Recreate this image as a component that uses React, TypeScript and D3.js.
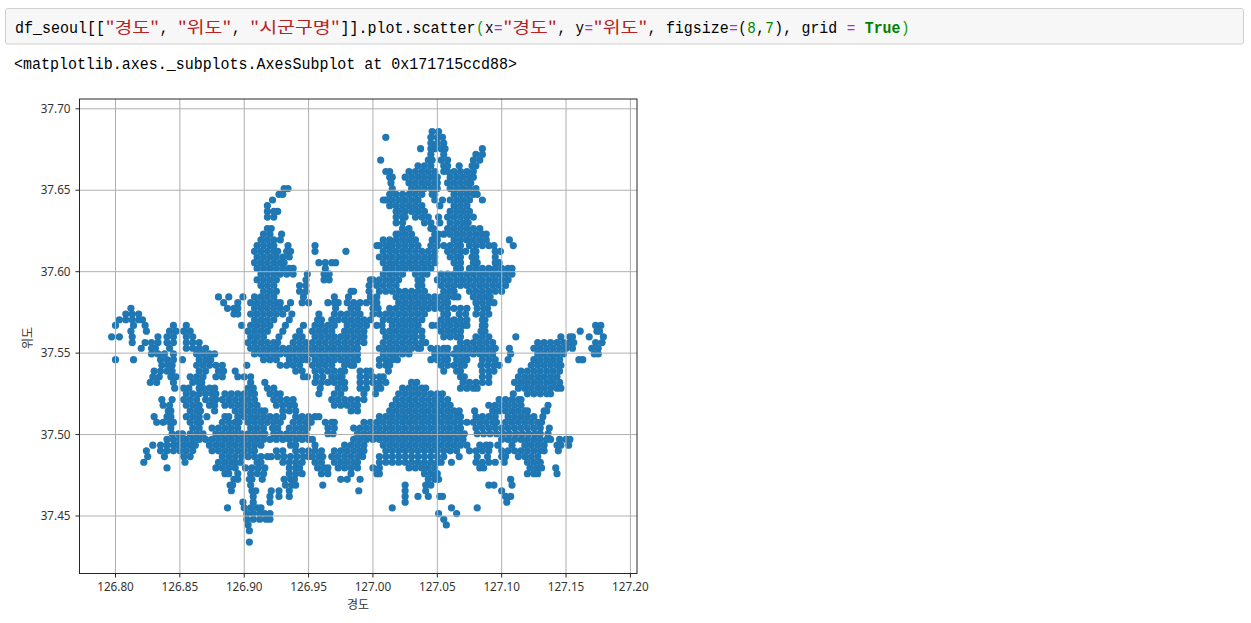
import React from "react";
import * as d3 from "d3";

// Code cell text, as [text, colour, cell width]
const codeTokens: [string, string, number][] = [
  ["df_seoul[[", "#000000", 10],
  ['"경도"', "#ba2121", 6],
  [",", "#000000", 1],
  ['"위도"', "#ba2121", 6],
  [",", "#000000", 1],
  ['"시군구명"', "#ba2121", 10],
  ["]].plot.scatter", "#000000", 15],
  ["(", "#00a000", 1],
  ["x", "#000000", 1],
  ["=", "#aa22ff", 1],
  ['"경도"', "#ba2121", 6],
  [",", "#000000", 1],
  ["y", "#000000", 1],
  ["=", "#aa22ff", 1],
  ['"위도"', "#ba2121", 6],
  [",", "#000000", 1],
  ["figsize", "#000000", 7],
  ["=", "#aa22ff", 1],
  ["(", "#000000", 1],
  ["8", "#008800", 1],
  [",", "#000000", 1],
  ["7", "#008800", 1],
  ["),", "#000000", 2],
  ["grid", "#000000", 4],
  ["=", "#aa22ff", 1],
  ["True", "#008000", 4],
  [")", "#00a000", 1],
];
// Blank cells in front of a token of the code line
const codeGaps: Record<number, number> = { 3: 1, 5: 1, 12: 1, 16: 1, 23: 1, 24: 1, 25: 1 };
const outputText = "<matplotlib.axes._subplots.AxesSubplot at 0x171715ccd88>";

const xTicks = [126.8, 126.85, 126.9, 126.95, 127.0, 127.05, 127.1, 127.15, 127.2];
const yTicks = [37.45, 37.5, 37.55, 37.6, 37.65, 37.7];
const xLabel = "경도";
const yLabel = "위도";

// Latitude of each band of points
const bandLatitudes = [
  37.686, 37.6825, 37.679, 37.6755, 37.672, 37.6685, 37.665, 37.6615, 37.658, 37.6545,
  37.651, 37.6475, 37.644, 37.6405, 37.637, 37.6335, 37.63, 37.6265, 37.623, 37.6195,
  37.616, 37.6125, 37.609, 37.6055, 37.602, 37.5985, 37.595, 37.5915, 37.588, 37.5845,
  37.581, 37.5775, 37.574, 37.5705, 37.567, 37.5635, 37.56, 37.5565, 37.553, 37.5495,
  37.546, 37.5425, 37.539, 37.5355, 37.532, 37.5285, 37.525, 37.5215, 37.518, 37.5145,
  37.511, 37.5075, 37.504, 37.5005, 37.497, 37.4935, 37.49, 37.4865, 37.483, 37.4795,
  37.476, 37.4725, 37.469, 37.4655, 37.462, 37.4585, 37.455, 37.4515, 37.448, 37.4445,
  37.441, 37.4375, 37.434,
];

// Longitudes of the points in each band, in thousandths of a degree above 126
const bandLongitudes: number[][] = [
  [1046,1051],
  [1010,1045,1050,1054],
  [1045,1050,1055],
  [1037,1045,1048,1053,1056,1085],
  [1045,1055,1080,1085],
  [1006,1043,1046,1053,1058,1078,1083],
  [1035,1040,1045,1055,1058,1067,1077,1080],
  [1010,1013,1028,1033,1038,1043,1048,1055,1058,1063,1068,1073,1078],
  [1013,1015,1025,1030,1035,1040,1045,1050,1060,1065,1070,1075,1078],
  [1014,1028,1033,1038,1043,1048,1050,1058,1063,1068,1073,1076],
  [931,934,1015,1030,1035,1040,1045,1050,1060,1065,1070,1075,1080],
  [927,930,1013,1018,1023,1028,1033,1038,1046,1048,1063,1068,1073,1078,1081],
  [922,1008,1010,1015,1020,1025,1030,1035,1048,1054,1060,1065,1070,1075,1085],
  [918,1013,1018,1023,1028,1033,1038,1052,1063,1068,1073],
  [918,923,926,1018,1020,1025,1030,1035,1040,1060,1065,1070,1075],
  [918,923,1018,1023,1025,1033,1038,1043,1051,1058,1063,1068,1073,1078],
  [1018,1023,1040,1045,1052,1060,1065,1070,1074],
  [918,921,1023,1028,1045,1047,1058,1063,1068,1073,1078,1083],
  [915,920,929,1018,1020,1025,1030,1048,1051,1055,1060,1065,1070,1075,1080,1085,1088],
  [913,918,923,928,1008,1013,1018,1023,1028,1033,1046,1050,1063,1068,1073,1078,1083,1088,1106],
  [910,915,920,923,934,955,1003,1005,1010,1013,1015,1020,1025,1030,1035,1045,1050,1055,1060,1065,1068,1075,1080,1085,1090,1094,1109],
  [908,913,918,923,926,933,936,955,979,1008,1013,1018,1023,1028,1033,1038,1043,1048,1058,1063,1068,1072,1078,1080,1095,1099],
  [910,915,920,925,930,935,1005,1010,1015,1020,1025,1030,1035,1040,1045,1048,1060,1065,1068,1077,1080,1095],
  [908,913,918,923,928,931,958,963,968,971,1008,1013,1018,1023,1028,1033,1038,1043,1048,1063,1068,1078,1081,1095,1098],
  [910,915,920,925,930,935,938,963,1010,1015,1020,1025,1030,1035,1040,1045,1065,1068,1075,1080,1085,1090,1095,1100,1105,1108],
  [913,918,923,928,933,938,949,962,966,1008,1013,1018,1023,1033,1038,1042,1053,1058,1063,1068,1073,1078,1083,1088,1093,1098,1103,1108],
  [910,915,920,925,948,962,966,998,1000,1005,1010,1015,1020,1035,1038,1050,1055,1060,1065,1070,1075,1080,1085,1090,1095,1100,1105],
  [913,918,923,943,948,997,1003,1008,1013,1018,1035,1038,1053,1058,1063,1068,1073,1078,1083,1088,1093,1098,1103],
  [915,920,925,943,948,983,985,997,1005,1010,1015,1020,1025,1030,1035,1040,1055,1060,1063,1075,1080,1085,1090,1095,1100],
  [880,888,899,908,913,918,923,946,970,981,998,1003,1018,1023,1028,1033,1038,1043,1048,1053,1058,1063,1066,1078,1083,1088,1091],
  [884,895,905,910,915,920,925,928,936,945,950,965,970,973,980,985,990,995,1000,1003,1020,1025,1030,1035,1040,1045,1050,1055,1058,1080,1085,1090,1094],
  [812,887,892,895,908,913,918,923,928,933,971,983,988,1000,1004,1013,1018,1023,1028,1033,1038,1043,1048,1053,1058,1063,1068,1073,1081,1086,1089],
  [808,813,818,892,895,905,910,915,920,925,930,937,958,970,975,980,985,990,1000,1005,1010,1015,1020,1025,1030,1035,1040,1055,1058,1067,1072,1080,1085,1090],
  [803,808,813,818,821,908,913,918,923,935,957,960,968,973,978,983,988,993,998,1008,1013,1018,1023,1028,1033,1038,1053,1058,1063,1068,1073,1085,1087],
  [800,814,823,845,855,898,905,910,915,920,932,946,955,960,965,970,980,985,990,995,1003,1007,1015,1020,1025,1030,1035,1046,1050,1055,1060,1065,1070,1073,1085,1087,1173,1177],
  [812,824,842,847,853,858,903,908,913,918,930,943,953,958,963,968,978,983,988,993,1008,1013,1018,1023,1028,1033,1038,1053,1058,1063,1068,1084,1087,1161,1174,1176],
  [797,803,813,833,840,845,855,860,905,910,915,927,940,945,955,960,965,970,975,980,985,990,993,1010,1015,1020,1025,1030,1033,1038,1055,1060,1065,1068,1080,1085,1090,1111,1146,1153,1155,1168,1179],
  [813,823,828,833,840,845,855,860,865,903,908,913,918,923,926,938,943,948,953,958,963,968,973,978,983,988,993,1008,1013,1018,1023,1028,1033,1038,1041,1068,1073,1078,1083,1088,1093,1128,1133,1138,1143,1148,1153,1156,1173,1178],
  [820,828,831,842,855,860,865,870,905,910,915,920,925,930,935,940,945,950,955,960,965,970,975,980,985,988,1005,1010,1015,1020,1025,1030,1035,1037,1045,1050,1055,1058,1065,1070,1075,1080,1085,1090,1095,1106,1125,1130,1135,1140,1145,1150,1155,1170,1175],
  [828,833,838,845,863,868,873,877,908,913,918,923,928,933,938,943,948,953,958,963,968,973,978,983,988,1008,1013,1018,1023,1028,1048,1053,1058,1063,1068,1073,1078,1083,1088,1093,1107,1128,1133,1138,1143,1148,1172,1175],
  [800,814,835,840,845,852,865,870,874,915,920,925,935,940,945,949,955,960,965,970,975,980,985,988,1005,1010,1015,1019,1045,1050,1055,1058,1065,1070,1073,1085,1090,1095,1105,1125,1130,1135,1140,1145,1160,1163],
  [836,841,844,863,868,873,878,883,902,928,933,938,943,953,958,963,968,978,983,985,1005,1010,1013,1053,1058,1063,1068,1071,1084,1089,1094,1098,1123,1128,1133,1138,1143,1146],
  [830,835,840,844,865,870,880,884,893,940,945,955,960,965,970,975,978,990,995,998,1012,1055,1065,1068,1085,1090,1094,1115,1120,1125,1130,1135,1140,1145],
  [829,834,843,847,858,863,868,878,883,895,900,905,946,949,956,961,968,973,976,990,995,1000,1005,1008,1068,1071,1085,1090,1113,1118,1123,1128,1133,1138,1143],
  [827,832,845,860,865,867,905,916,955,960,965,970,975,978,990,995,1000,1005,1010,1030,1034,1070,1075,1080,1085,1090,1110,1115,1120,1125,1130,1135,1140,1145],
  [846,853,857,865,868,873,877,903,907,918,923,959,973,978,990,995,1003,1006,1023,1028,1033,1038,1041,1068,1073,1078,1081,1113,1118,1123,1128,1133,1138,1143,1146],
  [855,860,865,870,875,878,885,890,895,900,905,908,920,925,928,958,970,975,993,1002,1020,1025,1030,1035,1040,1045,1050,1054,1109,1120,1125,1130,1135,1138],
  [836,844,853,858,863,870,875,878,883,888,893,898,903,908,923,928,933,938,968,973,978,983,988,993,1018,1023,1028,1033,1038,1043,1048,1053,1058,1098,1103,1108,1113,1115],
  [837,842,855,860,865,873,877,885,890,895,900,905,910,925,930,935,939,970,975,980,985,988,1015,1020,1025,1030,1035,1040,1045,1050,1055,1060,1090,1095,1100,1105,1110,1115,1136],
  [841,843,858,863,866,877,893,898,903,908,913,916,930,935,940,983,988,1013,1018,1023,1028,1033,1038,1043,1048,1053,1058,1063,1067,1079,1093,1098,1103,1108,1113,1118,1120,1133,1135],
  [830,840,843,855,860,865,871,885,888,895,900,905,910,915,920,925,930,940,945,950,955,958,1005,1010,1015,1020,1025,1030,1035,1040,1045,1050,1055,1060,1065,1068,1080,1085,1090,1095,1105,1110,1115,1120,1125,1132],
  [832,837,842,845,858,863,866,883,888,893,896,903,908,913,918,923,928,938,943,948,952,963,968,970,993,998,1003,1008,1013,1018,1023,1028,1033,1038,1043,1048,1053,1058,1063,1068,1073,1078,1083,1088,1093,1096,1103,1108,1113,1118,1123,1128,1131],
  [843,860,865,875,880,885,890,895,905,910,915,922,926,935,940,945,949,965,970,985,990,995,1000,1005,1010,1015,1020,1025,1030,1035,1040,1045,1050,1055,1060,1065,1068,1080,1085,1090,1095,1100,1105,1110,1115,1120,1125,1130,1137],
  [844,849,852,858,863,868,878,883,888,893,898,903,908,913,916,923,928,933,938,943,948,965,969,988,993,998,1003,1008,1013,1018,1023,1028,1033,1038,1043,1048,1053,1058,1063,1068,1071,1081,1086,1091,1096,1101,1106,1111,1116,1121,1126,1130,1136],
  [840,845,850,855,860,865,870,875,880,885,890,895,900,905,910,915,920,925,930,935,940,945,950,953,985,990,995,1000,1005,1010,1015,1020,1025,1030,1035,1040,1045,1050,1055,1060,1065,1070,1100,1105,1110,1115,1120,1125,1130,1135,1138,1145,1150,1153],
  [829,835,840,845,848,853,858,862,873,878,883,888,893,898,903,908,913,936,940,955,978,983,988,993,1008,1013,1018,1023,1028,1033,1038,1043,1048,1053,1058,1063,1068,1073,1083,1088,1091,1097,1108,1118,1123,1128,1133,1143,1146,1152],
  [824,835,840,845,850,855,860,875,880,885,890,895,900,905,908,925,930,940,945,950,955,960,970,975,980,985,990,993,1010,1015,1020,1025,1030,1035,1040,1045,1050,1055,1060,1065,1075,1080,1085,1090,1100,1105,1110,1115,1120,1125,1130,1133,1144],
  [825,838,853,858,883,888,893,898,903,908,913,918,921,926,931,936,941,946,950,953,958,961,968,973,978,983,988,992,1005,1010,1015,1020,1025,1030,1035,1040,1045,1050,1055,1067,1081,1089,1100,1103,1113,1118,1123,1128],
  [822,854,880,885,890,893,897,910,913,930,935,940,945,955,960,970,975,980,985,988,1005,1010,1015,1020,1025,1030,1035,1040,1045,1050,1053,1061,1080,1085,1090,1095,1102,1120,1125,1130],
  [840,878,883,888,893,901,906,911,916,935,940,943,957,962,965,973,978,983,988,1000,1005,1028,1033,1038,1043,1048,1083,1086,1122,1127,1131,1142],
  [885,888,895,905,910,915,935,940,945,960,965,983,1003,1005,1040,1045,1050,1120,1125,1128,1143],
  [892,895,904,906,914,931,936,939,975,980,990,1043,1048,1051,1107],
  [889,891,905,932,937,940,961,1025,1041,1045,1090,1094,1108],
  [890,906,909,921,927,935,989,1025,1041,1100],
  [907,920,927,935,1025,1035,1043,1052,1054,1103,1107],
  [899,907,920,1025,1104],
  [887,900,905,910,913,1015,1061,1081],
  [902,907,912,916,920,1051,1065],
  [902,907,912,917,920,1055],
  [903,1057],
  [904],
  [],
  [904],
];

const width = 1251;
const height = 623;
const plot = { left: 79.5, right: 637, top: 99, bottom: 573.5 };
const x = d3.scaleLinear().domain([126.8, 127.2]).range([115.5, 630.4]);
const y = d3.scaleLinear().domain([37.45, 37.7]).range([516, 108.8]);

const points = bandLatitudes.flatMap((lat, i) =>
  bandLongitudes[i].map((v) => ({ lon: 126 + v / 1000, lat }))
);

const monoFont = "'Liberation Mono','DejaVu Sans Mono',monospace";
const krFont = "'Noto Sans CJK KR',sans-serif";
const uiFont = "'Noto Sans','Noto Sans CJK KR',sans-serif";
const hangul = /[가-힣]/;
const cellWidth = 9.04;

function CodeLine() {
  let cell = 0;
  return (
    <g>
      {codeTokens.map(([t, c, n], i) => {
        cell += codeGaps[i] ?? 0;
        const tx = 15 + cell * cellWidth;
        cell += n;
        return (
          <text
            key={i}
            x={tx}
            y={33}
            fill={c}
            fontSize={16}
            fontWeight={t === "True" ? 700 : 400}
            fontFamily={hangul.test(t) ? krFont : monoFont}
            textLength={n * cellWidth - 0.5}
            lengthAdjust="spacingAndGlyphs"
          >
            {t}
          </text>
        );
      })}
    </g>
  );
}

export default function App() {
  return (
    <svg
      width={width}
      height={height}
      viewBox={`0 0 ${width} ${height}`}
      style={{ position: "absolute", left: 0, top: 0, display: "block", background: "#ffffff" }}
    >
      <rect x={5.5} y={8.5} width={1238} height={35.5} fill="#f7f7f7" stroke="#cfcfcf" rx={2} />
      <CodeLine />
      <text
        x={14}
        y={69}
        fontSize={16}
        fill="#000000"
        fontFamily={monoFont}
        textLength={503}
        lengthAdjust="spacingAndGlyphs"
      >
        {outputText}
      </text>

      <rect x={plot.left} y={plot.top} width={plot.right - plot.left} height={plot.bottom - plot.top} fill="#ffffff" />
      <g fill="#1f77b4">
        {points.map((p, i) => (
          <circle key={i} cx={x(p.lon)} cy={y(p.lat)} r={3.6} />
        ))}
      </g>
      <g stroke="#b0b0b0" strokeWidth={1}>
        {xTicks.map((t) => (
          <line key={t} x1={x(t)} x2={x(t)} y1={plot.top} y2={plot.bottom} />
        ))}
        {yTicks.map((t) => (
          <line key={t} x1={plot.left} x2={plot.right} y1={y(t)} y2={y(t)} />
        ))}
      </g>
      <rect
        x={plot.left}
        y={plot.top}
        width={plot.right - plot.left}
        height={plot.bottom - plot.top}
        fill="none"
        stroke="#262626"
        strokeWidth={1}
      />
      <g stroke="#262626" strokeWidth={1}>
        {xTicks.map((t) => (
          <line key={t} x1={x(t)} x2={x(t)} y1={plot.bottom} y2={plot.bottom + 4} />
        ))}
        {yTicks.map((t) => (
          <line key={t} x1={plot.left - 4} x2={plot.left} y1={y(t)} y2={y(t)} />
        ))}
      </g>
      <g fontFamily={uiFont} fontSize={11.7} fill="#333333">
        {xTicks.map((t) => (
          <text key={t} x={x(t)} y={591} textAnchor="middle">
            {t.toFixed(2)}
          </text>
        ))}
        {yTicks.map((t) => (
          <text key={t} x={70.5} y={y(t) + 4} textAnchor="end">
            {t.toFixed(2)}
          </text>
        ))}
        <text x={358} y={609} textAnchor="middle" fontFamily={krFont} fontSize={12}>
          {xLabel}
        </text>
        <text transform="translate(32,338) rotate(-90)" textAnchor="middle" fontFamily={krFont} fontSize={12}>
          {yLabel}
        </text>
      </g>
    </svg>
  );
}
